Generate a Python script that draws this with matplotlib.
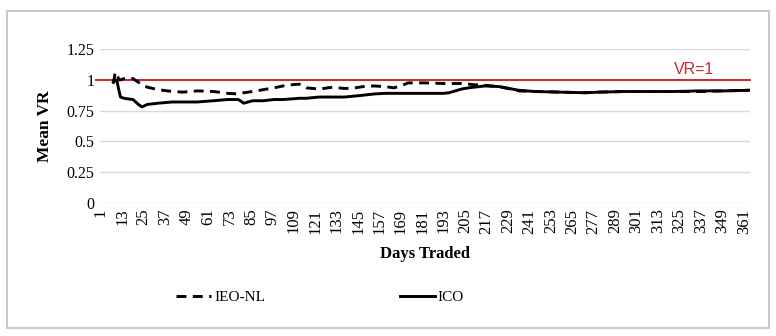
import matplotlib.pyplot as plt
from matplotlib.patches import Rectangle

# sampled trading days and mean variance ratios
days = [8, 9, 10, 11, 12, 14, 16, 19, 22, 24, 27, 33, 41, 47, 55, 64, 72, 78,
        81, 86, 92, 98, 103, 108, 112, 116, 123, 131, 137, 141, 148, 154, 160,
        165, 169, 173, 182, 193, 196, 203, 207, 210, 216, 224, 235, 244, 258,
        272, 280, 294, 308, 322, 336, 350, 364]

ieo_nl = [0.97, 1.06, 1.05, 1.00, 1.00, 1.01, 1.015, 1.01, 0.98, 0.96, 0.94,
          0.92, 0.905, 0.90, 0.91, 0.905, 0.89, 0.885, 0.895, 0.905, 0.92,
          0.935, 0.95, 0.96, 0.965, 0.935, 0.925, 0.94, 0.93, 0.93, 0.945,
          0.95, 0.945, 0.935, 0.95, 0.975, 0.975, 0.97, 0.97, 0.97, 0.965,
          0.96, 0.955, 0.945, 0.91, 0.905, 0.90, 0.895, 0.90, 0.905, 0.905,
          0.905, 0.905, 0.91, 0.915]

ico = [0.98, 1.00, 0.99, 0.92, 0.86, 0.85, 0.845, 0.84, 0.80, 0.78, 0.80,
       0.81, 0.82, 0.82, 0.82, 0.83, 0.84, 0.84, 0.81, 0.83, 0.83, 0.84,
       0.84, 0.845, 0.85, 0.85, 0.86, 0.86, 0.86, 0.865, 0.875, 0.885, 0.89,
       0.89, 0.89, 0.89, 0.89, 0.89, 0.895, 0.925, 0.935, 0.94, 0.95, 0.945,
       0.915, 0.905, 0.90, 0.895, 0.90, 0.905, 0.905, 0.905, 0.91, 0.91, 0.915]

tick_days = list(range(1, 365, 12))
y_ticks = [0, 0.25, 0.5, 0.75, 1, 1.25]
y_labels = ['0', '0.25', '0.5', '0.75', '1', '1.25']

plt.rcParams['font.family'] = ['Liberation Serif', 'DejaVu Serif']

fig = plt.figure(figsize=(7.76, 3.36), dpi=100)
ax = fig.add_axes([100 / 776, 1 - 203 / 336, 650 / 776, 154 / 336])

# outer frame
fig.patches.append(Rectangle((7 / 776, 1 - 328 / 336), 762 / 776, 317 / 336,
                             transform=fig.transFigure, fill=False,
                             edgecolor='#c4c4c4', linewidth=1.3))

for y in y_ticks:
    ax.axhline(y, color='#d9d9d9', linewidth=1.0, zorder=0)

ax.plot(days, ieo_nl, color='black', linewidth=2.1, linestyle=(0, (3.4, 2.2)),
        label='IEO-NL', zorder=3)
ax.plot(days, ico, color='black', linewidth=2.1, label='ICO', zorder=3)
ax.plot([-1.5, 364.5], [1, 1], color='#c8282e', linewidth=1.4, zorder=2,
        clip_on=False)
ax.text(333, 1.02, 'VR=1', color='#c8282e', fontsize=11.5, ha='center',
        va='bottom', family=['Liberation Sans', 'DejaVu Sans'])

ax.set_xlim(0.5, 364.5)
ax.set_ylim(0, 1.25)
ax.set_xticks(tick_days)
ax.set_xticklabels([str(d) for d in tick_days], rotation=90, fontsize=12)
ax.set_yticks(y_ticks)
ax.set_yticklabels(y_labels, fontsize=11.5)
ax.tick_params(length=0, pad=4)
for s in ax.spines.values():
    s.set_visible(False)

ax.set_xlabel('Days Traded', fontsize=12, fontweight='bold', labelpad=9)
ax.set_ylabel('Mean VR', fontsize=12.5, fontweight='bold', labelpad=10)

fig.legend(loc='center', bbox_to_anchor=(320 / 776, 1 - 297 / 336), ncol=2,
           frameon=False, fontsize=11, handlelength=2.3, handletextpad=0.2,
           columnspacing=8.8)

fig.savefig('out.png', dpi=100)
